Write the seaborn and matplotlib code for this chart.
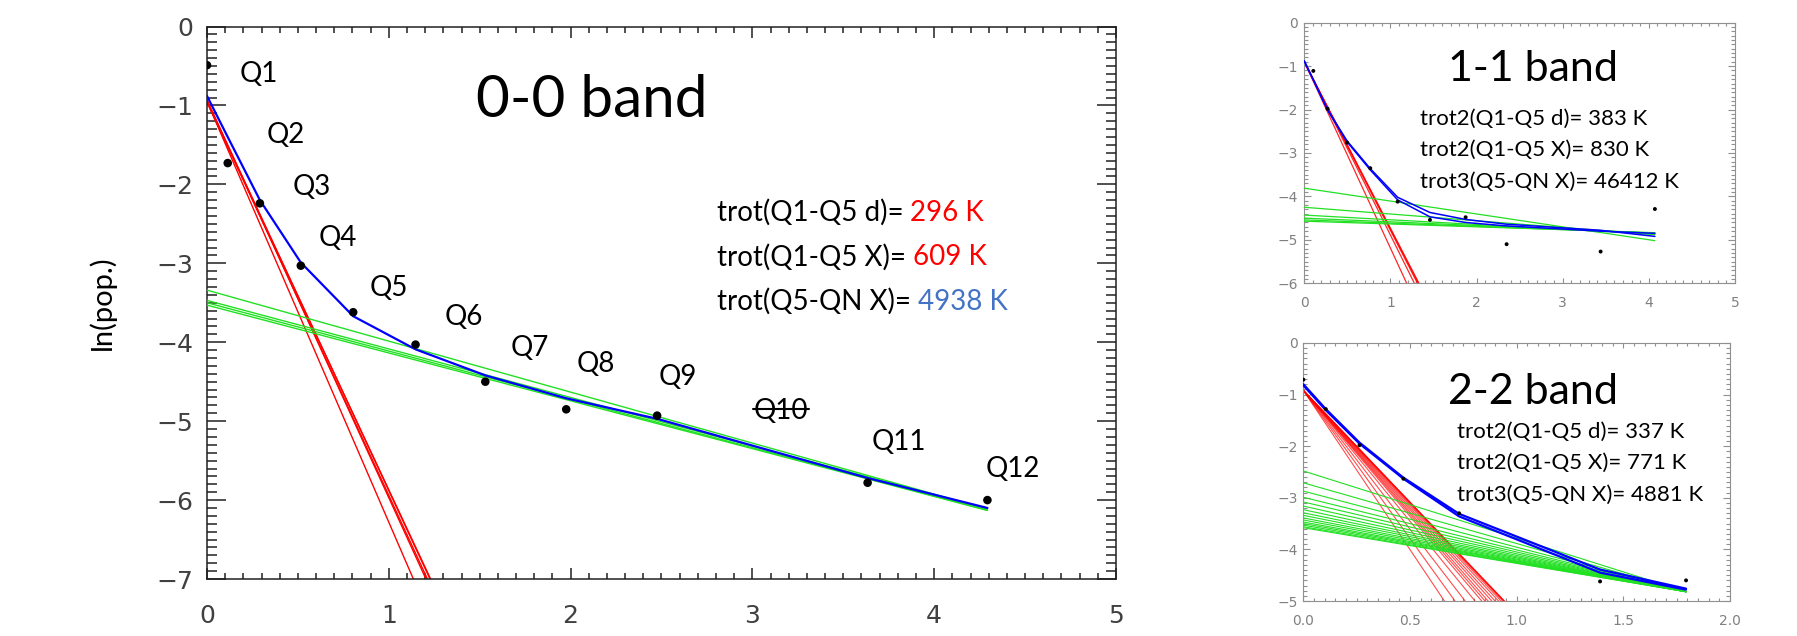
import numpy as np
import pandas as pd
import matplotlib
matplotlib.use("Agg")
import matplotlib.pyplot as plt
import seaborn as sns
from matplotlib.ticker import MultipleLocator

# ---------------- data: 0-0 band (main panel) ----------------
main_x = [0.000, 0.114, 0.291, 0.516, 0.804, 1.147, 1.531, 1.976, 2.476, 3.634, 4.293]
main_y = [-0.49, -1.73, -2.24, -3.03, -3.62, -4.03, -4.50, -4.85, -4.93, -5.78, -6.00]
main_blue = [-0.88, -1.40, -2.20, -2.99, -3.67, -4.09, -4.42, -4.71, -4.97, -5.72, -6.10]
main_red_b = [-0.95, -0.93, -0.95, -0.94, -0.96]
main_red_m = [-5.33, -5.04, -4.99, -4.94, -4.91]
main_green_b = [-3.34, -3.47, -3.50, -3.53]
main_green_m = [-0.646, -0.615, -0.612, -0.606]
q_labels = ["Q1", "Q2", "Q3", "Q4", "Q5", "Q6", "Q7", "Q8", "Q9", "Q10", "Q11", "Q12"]
q_lab_x = [0.287, 0.434, 0.575, 0.722, 1.002, 1.412, 1.775, 2.141, 2.590, 3.158, 3.808, 4.430]
q_lab_y = [-0.57, -1.34, -2.00, -2.65, -3.28, -3.65, -4.04, -4.25, -4.41, -4.84, -5.23, -5.57]
main_txt_black = ["trot(Q1-Q5 d)=", "trot(Q1-Q5 X)=", "trot(Q5-QN X)="]
main_txt_value = ["296 K", "609 K", "4938 K"]
main_txt_color = ["#ff0000", "#ff0000", "#4472c4"]

# ---------------- data: 1-1 band ----------------
b11_x = [0.105, 0.270, 0.496, 0.766, 1.084, 1.459, 1.873, 2.349, 3.440, 4.070]
b11_y = [-1.11, -1.98, -2.76, -3.35, -4.12, -4.54, -4.48, -5.10, -5.27, -4.29]
b11_blue_x = [0.0, 0.105, 0.270, 0.496, 0.766, 1.084, 1.459, 1.873, 2.349, 3.440, 4.070]
b11_blue_a = [-0.88, -1.32, -2.01, -2.74, -3.39, -4.08, -4.47, -4.60, -4.68, -4.80, -4.85]
b11_blue_b = [-0.88, -1.31, -2.00, -2.72, -3.36, -4.02, -4.37, -4.53, -4.64, -4.78, -4.92]
b11_red_b = [-0.90, -0.90, -0.90, -0.90, -0.90]
b11_red_m = [-4.29, -3.99, -3.88, -3.85, -3.83]
b11_green_b = [-3.81, -4.25, -4.43, -4.50, -4.54, -4.57]
b11_green_m = [-0.297, -0.155, -0.108, -0.085, -0.075, -0.065]
b11_txt = ["trot2(Q1-Q5 d)= 383 K", "trot2(Q1-Q5 X)= 830 K", "trot3(Q5-QN X)= 46412 K"]

# ---------------- data: 2-2 band ----------------
b22_x = [0.000, 0.105, 0.263, 0.469, 0.730, 1.391, 1.794]
b22_y = [-0.71, -1.28, -1.98, -2.63, -3.30, -4.62, -4.60]
b22_blue_a = [-0.80, -1.28, -1.93, -2.61, -3.31, -4.39, -4.76]
b22_blue_b = [-0.82, -1.30, -1.95, -2.63, -3.36, -4.45, -4.78]
b22_red_b = [-0.92] * 15
b22_red_m = [-6.17, -5.74, -5.38, -5.07, -4.88, -4.79, -4.71, -4.62, -4.54, -4.46,
             -4.40, -4.36, -4.34, -4.33, -4.33]
b22_green_b = [-2.48, -2.71, -2.87, -2.99, -3.08, -3.16, -3.23, -3.29, -3.34, -3.39,
               -3.43, -3.47, -3.50, -3.53, -3.56, -3.58]
b22_green_m = [-1.304, -1.176, -1.087, -1.020, -0.970, -0.925, -0.886, -0.853, -0.825,
               -0.797, -0.775, -0.753, -0.736, -0.719, -0.702, -0.691]
b22_txt = ["trot2(Q1-Q5 d)= 337 K", "trot2(Q1-Q5 X)= 771 K", "trot3(Q5-QN X)= 4881 K"]

# ---------------------------------------------------------------
sns.set_style("ticks")
plt.rcParams["font.family"] = ["DejaVu Sans"]
TXT = ["Lato", "DejaVu Sans"]
DPI = 100
fig = plt.figure(figsize=(17.97, 6.36), dpi=DPI)

RED = "#ff0000"
GREEN = "#22e022"
BLUE = "#0000ff"


def fit_frame(bs, ms, x0, x1):
    rows = []
    for i, (b, m) in enumerate(zip(bs, ms)):
        for x in (x0, x1):
            rows.append({"fit": i, "x": x, "y": b + m * x})
    return pd.DataFrame(rows)


def curve_frame(xs, curves):
    rows = []
    for i, ys in enumerate(curves):
        for x, y in zip(xs, ys):
            rows.append({"fit": i, "x": x, "y": y})
    return pd.DataFrame(rows)


def style_axes(ax, xlim, ylim, xmaj, xminor, ymaj, yminor, xlen, ylen, lsize,
               lcolor, tcolor, lw, xpad, ypad):
    ax.set_xlim(xlim)
    ax.set_ylim(ylim)
    ax.xaxis.set_major_locator(MultipleLocator(xmaj))
    ax.xaxis.set_minor_locator(MultipleLocator(xminor))
    ax.yaxis.set_major_locator(MultipleLocator(ymaj))
    ax.yaxis.set_minor_locator(MultipleLocator(yminor))
    ax.tick_params(axis="x", which="both", direction="in", top=True, bottom=True,
                   color=tcolor, width=lw, labelsize=lsize, labelcolor=lcolor, pad=xpad)
    ax.tick_params(axis="y", which="both", direction="in", left=True, right=True,
                   color=tcolor, width=lw, labelsize=lsize, labelcolor=lcolor, pad=ypad)
    ax.tick_params(axis="x", which="major", length=xlen)
    ax.tick_params(axis="x", which="minor", length=xlen * 0.55)
    ax.tick_params(axis="y", which="major", length=ylen)
    ax.tick_params(axis="y", which="minor", length=ylen * 0.55)
    for s in ax.spines.values():
        s.set_visible(True)
        s.set_color(tcolor)
        s.set_linewidth(lw)
    ax.set_xlabel("")
    ax.set_ylabel("")
    ax.grid(False)


def draw_fits(ax, red, green, blue, red_lw, green_lw, blue_lw, red_alpha=1.0):
    sns.lineplot(data=red, x="x", y="y", units="fit", estimator=None, color=RED,
                 lw=red_lw, alpha=red_alpha, ax=ax, legend=False, zorder=2)
    sns.lineplot(data=green, x="x", y="y", units="fit", estimator=None, color=GREEN,
                 lw=green_lw, ax=ax, legend=False, zorder=3)
    sns.lineplot(data=blue, x="x", y="y", units="fit", estimator=None, color=BLUE,
                 lw=blue_lw, ax=ax, legend=False, zorder=4)


# ---------------- main panel ----------------
ax = fig.add_axes([0.1152, 0.0896, 0.5058, 0.8687])
ax.set_facecolor("white")
draw_fits(ax,
          fit_frame(main_red_b, main_red_m, 0.0, 1.5),
          fit_frame(main_green_b, main_green_m, 0.0, main_x[-1]),
          curve_frame(main_x, [main_blue]),
          1.0, 1.0, 1.6)
sns.scatterplot(x=main_x, y=main_y, color="black", s=38, edgecolor="none", ax=ax,
                zorder=5, legend=False)
style_axes(ax, (0, 5), (-7, 0), 1, 0.1, 1, 0.1, 7.9, 13.7, 18, "#404040", "#202020",
           1.1, 18, 10)
ax.set_ylabel("ln(pop.)", fontsize=21, family=TXT, color="black")
ax.yaxis.set_label_coords(-0.100, 0.5)

r = fig.canvas.get_renderer()
for lab, lx, ly in zip(q_labels, q_lab_x, q_lab_y):
    t = ax.text(lx, ly, lab, fontsize=20, family=TXT, ha="center", va="center_baseline",
                color="black", zorder=6)
    if lab == "Q10":
        bb = t.get_window_extent(r)
        ydisp = ax.transData.transform((lx, ly))[1]
        inv = ax.transData.inverted()
        xa, ya = inv.transform((bb.x0 - 1, ydisp))
        xb, _ = inv.transform((bb.x1 + 1, ydisp))
        ax.plot([xa, xb], [ya, ya], color="black", lw=1.5, zorder=6)

ax.text(2.115, -0.88, "0-0 band", fontsize=42, family=TXT, ha="center",
        va="center_baseline", color="black")

for ty, blk, val, col in zip([-2.325, -2.886, -3.456], main_txt_black, main_txt_value,
                             main_txt_color):
    tf = ax.text(2.804, ty, blk + " " + val, fontsize=20, family=TXT)
    tv = ax.text(2.804, ty, val, fontsize=20, family=TXT)
    off = (tf.get_window_extent(r).width - tv.get_window_extent(r).width) * 72.0 / DPI
    tf.remove()
    tv.remove()
    ax.text(2.804, ty, blk, fontsize=20, family=TXT, ha="left", va="center_baseline",
            color="black")
    ax.annotate(val, xy=(2.804, ty), xycoords="data", xytext=(off, 0),
                textcoords="offset points", fontsize=20, family=TXT, ha="left",
                va="center_baseline", color=col)

# ---------------- 1-1 band ----------------
ax1 = fig.add_axes([0.7258, 0.5546, 0.2397, 0.4097])
draw_fits(ax1,
          fit_frame(b11_red_b, b11_red_m, 0.0, 1.6),
          fit_frame(b11_green_b, b11_green_m, 0.0, b11_x[-1]),
          curve_frame(b11_blue_x, [b11_blue_a, b11_blue_b]),
          0.9, 0.9, 1.1, red_alpha=0.85)
sns.scatterplot(x=b11_x, y=b11_y, color="black", s=8, edgecolor="none", ax=ax1,
                zorder=5, legend=False)
style_axes(ax1, (0, 5), (-6, 0), 1, 0.1, 1, 0.1, 3.6, 5.3, 10, "#808080", "#909090",
           0.8, 9.0, 4.5)
ax1.text(2.65, -0.99, "1-1 band", fontsize=31, family=TXT, ha="center",
         va="center_baseline", color="black")
for ty, s in zip([-2.16, -2.89, -3.62], b11_txt):
    ax1.text(1.346, ty, s, fontsize=16, family=TXT, ha="left", va="center_baseline",
             color="black")

# ---------------- 2-2 band ----------------
ax2 = fig.add_axes([0.7253, 0.0550, 0.2374, 0.4057])
draw_fits(ax2,
          fit_frame(b22_red_b, b22_red_m, 0.0, 1.2),
          fit_frame(b22_green_b, b22_green_m, 0.0, b22_x[-1]),
          curve_frame(b22_x, [b22_blue_a, b22_blue_b]),
          0.8, 0.8, 1.6, red_alpha=0.7)
sns.scatterplot(x=b22_x, y=b22_y, color="black", s=8, edgecolor="none", ax=ax2,
                zorder=5, legend=False)
style_axes(ax2, (0, 2), (-5, 0), 0.5, 0.05, 1, 0.1, 3.6, 5.3, 10, "#808080", "#909090",
           0.8, 9.0, 4.0)
ax2.text(1.075, -0.886, "2-2 band", fontsize=31, family=TXT, ha="center",
         va="center_baseline", color="black")
for ty, s in zip([-1.68, -2.29, -2.90], b22_txt):
    ax2.text(0.719, ty, s, fontsize=16, family=TXT, ha="left", va="center_baseline",
             color="black")

fig.savefig("out.png", dpi=DPI, facecolor="white")
